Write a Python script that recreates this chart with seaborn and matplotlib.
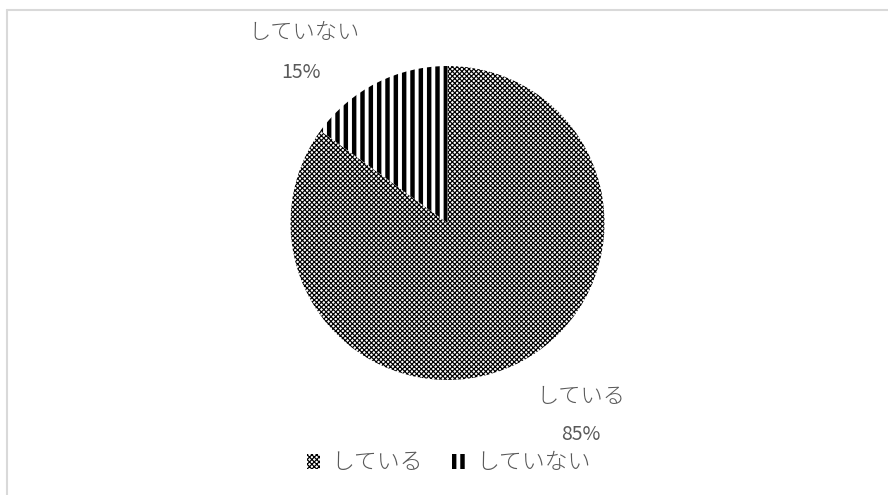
import matplotlib
matplotlib.use("Agg")
import matplotlib.pyplot as plt
import seaborn as sns

categories = ["している", "していない"]
values = [85, 15]
pct_labels = ["85%", "15%"]

sns.set_theme(style="white")
plt.rcParams["font.family"] = ["Noto Sans CJK JP", "DejaVu Sans"]
text_color = "#595959"

W, H = 888, 495
fig = plt.figure(figsize=(W / 100, H / 100), dpi=100)
fig.patch.set_facecolor("white")

# chart frame (top + left visible)
fig.add_artist(plt.Line2D([7 / W, 7 / W], [0, 1 - 10 / H], color="#d9d9d9", lw=1.5))
fig.add_artist(plt.Line2D([7 / W, 1], [1 - 10 / H, 1 - 10 / H], color="#d9d9d9", lw=1.5))

cx, cy, r = 447.5, 223, 157
ax = fig.add_axes([(cx - r) / W, 1 - (cy + r) / H, 2 * r / W, 2 * r / H])
ax.set_aspect("equal")

wedges, _ = ax.pie(values, startangle=90, counterclock=False,
                   colors=["white", "white"], radius=1,
                   wedgeprops=dict(edgecolor="black", linewidth=0))
hatches = ["xxxxxxx", "||"]
hlw = [0.85, 3.2]


def style(patches):
    for w, h, lw in zip(patches, hatches, hlw):
        w.set_hatch(h)
        w.set_edgecolor("black")
        if hasattr(w, "set_hatch_linewidth"):
            w.set_hatch_linewidth(lw)
        w.set_linewidth(0)


style(wedges)
ax.set_xlim(-1, 1)
ax.set_ylim(-1, 1)
ax.axis("off")

# data labels
label_pos = {"している": ((0.85, -1.108), (0.85, -1.344)),
             "していない": ((-0.914, 1.21), (-0.933, 0.96))}
for cat, pct in zip(categories, pct_labels):
    (lx, ly), (px, py) = label_pos[cat]
    ax.text(lx, ly, cat, ha="center", va="center", fontsize=16, fontweight="light",
            color=text_color, clip_on=False)
    ax.text(px, py, pct, ha="center", va="center", fontsize=14,
            color=text_color, clip_on=False)

leg = fig.legend(wedges, categories, loc="center", bbox_to_anchor=(449 / W, 1 - 463 / H),
                 ncol=2, frameon=False, prop=dict(size=16.5, weight="light"),
                 handlelength=0.55, handleheight=0.65,
                 handletextpad=0.5, columnspacing=1.3, labelcolor=text_color)
style(leg.legend_handles)
fig.savefig("out.png", dpi=100, facecolor="white")
